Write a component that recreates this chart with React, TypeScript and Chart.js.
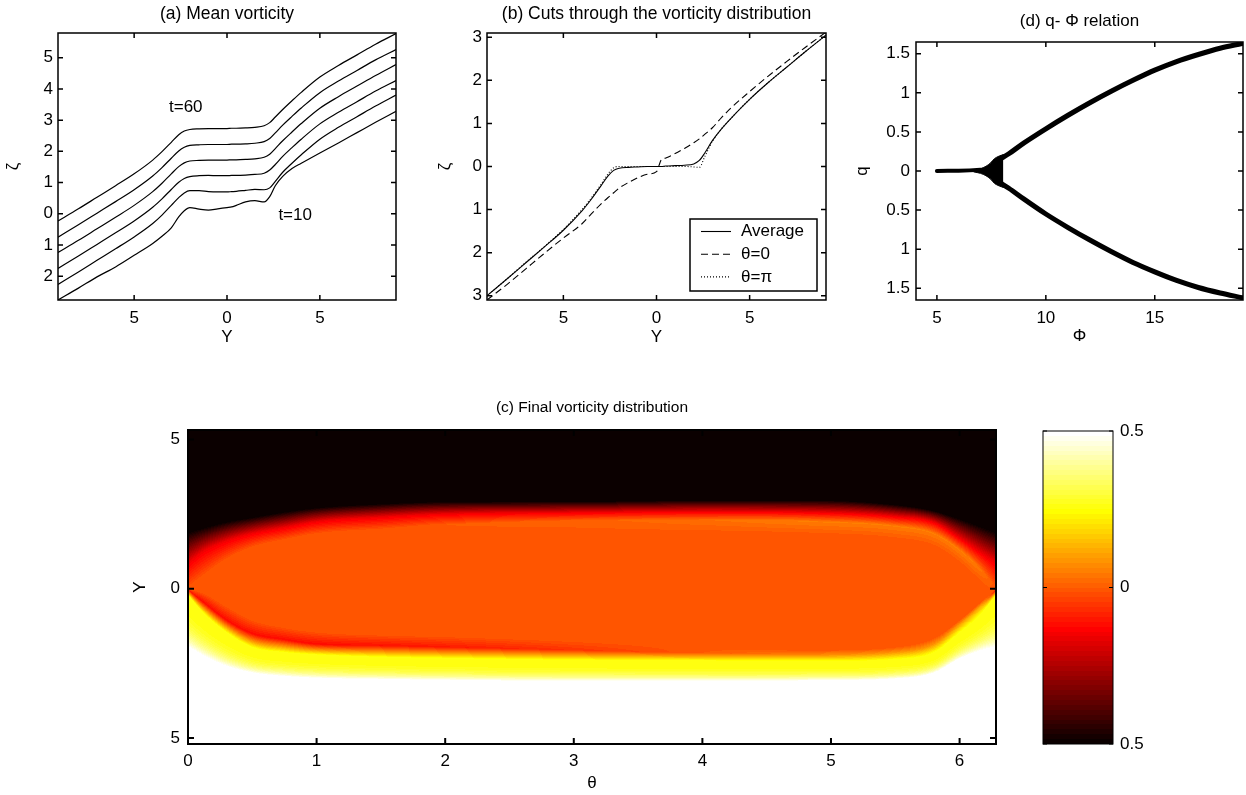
import React, { useEffect, useRef } from "react";
import { Chart, registerables } from "chart.js";

Chart.register(...registerables);

const FONT_FAMILY = "'Liberation Sans', Arial, Helvetica, sans-serif";
const INK = "#000000";

// ---------- (a) Mean vorticity: profiles of zeta(Y), stacked by time ----------
const yGrid = [-9.1, -8, -7, -6, -5, -4, -3.5, -3, -2.6, -2.3, -2, -1.5, -1, -0.5, 0, 0.25, 0.5, 1, 1.5, 2, 2.3, 2.6, 3, 3.5, 4, 5, 6, 7, 8, 9.1];
const meanT10 = [-2.76, -2.38, -2.02, -1.7, -1.33, -0.95, -0.72, -0.45, -0.1, 0.1, 0.2, 0.15, 0.12, 0.16, 0.2, 0.22, 0.27, 0.38, 0.42, 0.38, 0.55, 0.9, 1.2, 1.45, 1.62, 1.95, 2.27, 2.6, 2.93, 3.28];
const meanT20 = [-2.26, -1.86, -1.49, -1.12, -0.74, -0.31, -0.04, 0.27, 0.52, 0.67, 0.74, 0.74, 0.71, 0.7, 0.7, 0.71, 0.72, 0.75, 0.78, 0.77, 0.83, 1.04, 1.33, 1.62, 1.89, 2.39, 2.77, 3.11, 3.45, 3.8];
const meanT30 = [-1.75, -1.35, -0.98, -0.61, -0.23, 0.21, 0.48, 0.78, 1.01, 1.13, 1.19, 1.22, 1.23, 1.22, 1.22, 1.23, 1.23, 1.24, 1.26, 1.3, 1.4, 1.58, 1.84, 2.12, 2.39, 2.88, 3.25, 3.59, 3.93, 4.27];
const meanT40 = [-1.24, -0.85, -0.48, -0.11, 0.27, 0.71, 0.98, 1.28, 1.51, 1.63, 1.69, 1.71, 1.72, 1.72, 1.72, 1.73, 1.73, 1.74, 1.76, 1.81, 1.91, 2.09, 2.34, 2.62, 2.89, 3.38, 3.75, 4.09, 4.43, 4.78];
const meanT50 = [-0.75, -0.35, 0.02, 0.39, 0.77, 1.21, 1.48, 1.78, 2.01, 2.13, 2.19, 2.21, 2.22, 2.22, 2.22, 2.23, 2.23, 2.24, 2.26, 2.31, 2.41, 2.59, 2.84, 3.12, 3.39, 3.88, 4.25, 4.59, 4.93, 5.26];
const meanT60 = [-0.23, 0.16, 0.53, 0.9, 1.28, 1.72, 1.99, 2.29, 2.53, 2.65, 2.7, 2.72, 2.73, 2.73, 2.73, 2.74, 2.74, 2.75, 2.77, 2.82, 2.92, 3.1, 3.34, 3.62, 3.89, 4.38, 4.75, 5.09, 5.43, 5.77];
const meanTimes = ["t=10", "t=20", "t=30", "t=40", "t=50", "t=60"];
const noteTexts = ["t=60", "t=10"];
const noteY = [-2.22, 3.67];
const noteZeta = [3.41, -0.04];

// ---------- (b) Cuts through the vorticity distribution ----------
const cutAverage = [-3.0, -2.6, -2.23, -1.86, -1.48, -1.03, -0.76, -0.46, -0.22, -0.09, -0.04, -0.02, -0.01, 0, 0, 0, 0.01, 0.02, 0.03, 0.06, 0.14, 0.32, 0.6, 0.88, 1.12, 1.56, 1.95, 2.31, 2.67, 3.05];
const cutTheta0 = [-3.1, -2.73, -2.37, -2.01, -1.66, -1.33, -1.1, -0.88, -0.72, -0.61, -0.5, -0.37, -0.26, -0.18, -0.12, 0.15, 0.2, 0.3, 0.42, 0.55, 0.64, 0.75, 0.9, 1.14, 1.36, 1.74, 2.1, 2.44, 2.77, 3.12];
const cutThetaPi = [-3.0, -2.6, -2.22, -1.85, -1.46, -1.0, -0.73, -0.43, -0.17, -0.03, 0, 0, 0, 0, 0, 0, 0, 0, 0, -0.01, -0.02, 0.24, 0.58, 0.88, 1.12, 1.56, 1.95, 2.31, 2.67, 3.05];
const cutLabels = ["Average", "θ=0", "θ=π"];

// ---------- (d) q - Phi relation ----------
const stemPhi = [5, 5.5, 6, 6.5, 7];
const stemQ = [0, 0.002, 0.004, 0.008, 0.015];
const knotPhi = [6.7, 7.0, 7.25, 7.45, 7.65, 7.85, 8.05];
const knotUpper = [0.012, 0.03, 0.06, 0.1, 0.16, 0.19, 0.21];
const knotLower = [-0.012, -0.03, -0.06, -0.1, -0.16, -0.19, -0.21];
const branchPhi = [7.9, 8.3, 9, 10, 11, 12, 13, 14, 15, 16, 17, 18, 19];
const branchUpper = [0.15, 0.22, 0.36, 0.54, 0.71, 0.87, 1.02, 1.16, 1.29, 1.4, 1.49, 1.57, 1.63];
const branchLower = [-0.15, -0.22, -0.36, -0.55, -0.72, -0.88, -1.03, -1.17, -1.29, -1.4, -1.49, -1.56, -1.62];

// ---------- (c) Final vorticity distribution: per-column levels along Y ----------
const fieldTheta = [0, 0.12, 0.3, 0.5, 0.75, 1.0, 1.5, 2.0, 3.0, 4.0, 4.9, 5.5, 5.8, 6.0, 6.15, 6.2832];
const fieldBlack = [1.9, 2.05, 2.25, 2.4, 2.58, 2.72, 2.85, 2.92, 2.93, 2.97, 2.97, 2.82, 2.62, 2.35, 2.12, 1.9];
const fieldRed = [0.85, 1.25, 1.6, 1.85, 2.05, 2.25, 2.4, 2.5, 2.55, 2.58, 2.55, 2.42, 2.22, 1.7, 1.25, 0.85];
const fieldCoreTop = [0.05, 0.45, 1.0, 1.4, 1.65, 1.85, 2.0, 2.15, 2.28, 2.3, 2.25, 2.1, 1.85, 1.3, 0.7, 0.05];
const fieldTopRing = [-0.01, -0.01, -0.01, -0.01, -0.01, -0.01, -0.01, 0.0, 0.01, 0.03, 0.05, 0.05, 0.05, 0.05, 0.04, -0.01];
const fieldCoreBottom = [0.0, -0.15, -0.6, -1.05, -1.3, -1.45, -1.55, -1.6, -1.75, -1.95, -2.05, -1.95, -1.65, -1.05, -0.5, 0.0];
const fieldRingY = [-0.03, -0.45, -1.05, -1.5, -1.7, -1.85, -1.9, -1.95, -2.05, -2.15, -2.2, -2.12, -1.85, -1.2, -0.65, -0.03];
const fieldRingValue = [-0.1, -0.12, -0.12, -0.12, -0.12, -0.12, -0.11, -0.1, -0.06, 0.0, 0.06, 0.08, 0.08, 0.1, 0.12, -0.1];
const fieldYellow = [-0.2, -0.8, -1.45, -1.95, -2.12, -2.2, -2.28, -2.32, -2.38, -2.4, -2.42, -2.35, -2.12, -1.45, -0.9, -0.2];
const fieldWhite = [-1.95, -2.25, -2.6, -2.82, -2.94, -3.0, -3.04, -3.07, -3.1, -3.1, -3.08, -3.02, -2.82, -2.35, -2.1, -1.95];
const CORE_VALUE = -0.01;

// ---------- colour scale ----------
const colorLimits = [-0.5, 0.5];
const colorbarTicks = [-0.5, 0, 0.5];
const COLOR_LEVELS = 64;

function hotColor(v: number): [number, number, number] {
  let i = Math.floor(((v - colorLimits[0]) / (colorLimits[1] - colorLimits[0])) * COLOR_LEVELS);
  i = Math.max(0, Math.min(COLOR_LEVELS - 1, i));
  const r = i < 24 ? (i + 1) / 24 : 1;
  const g = i < 24 ? 0 : i < 48 ? (i - 23) / 24 : 1;
  const b = i < 48 ? 0 : (i - 47) / 16;
  return [Math.round(r * 255), Math.round(g * 255), Math.round(b * 255)];
}

const plainLabel = (v: any) => String(Math.abs(Number(v)));
const font = (size: number) => ({ family: FONT_FAMILY, size, weight: "normal" as const, lineHeight: 1.2 });
const toPoints = (xs: number[], ys: number[]) => xs.map((x, i) => ({ x, y: ys[i] }));

// Box and inward tick marks on all four sides
const framePlugin = {
  id: "frame",
  afterDatasetsDraw(chart: any, _args: any, opts: any) {
    const { ctx, chartArea: a, scales } = chart;
    const len = opts.tickLength ?? 5;
    ctx.save();
    ctx.strokeStyle = INK;
    ctx.lineWidth = opts.lineWidth ?? 1;
    ctx.beginPath();
    if (opts.xTicks !== false && scales.x) {
      for (const t of scales.x.ticks) {
        const px = scales.x.getPixelForValue(t.value);
        ctx.moveTo(px, a.bottom);
        ctx.lineTo(px, a.bottom - len);
        ctx.moveTo(px, a.top);
        ctx.lineTo(px, a.top + len);
      }
    }
    if (scales.y) {
      for (const t of scales.y.ticks) {
        const py = scales.y.getPixelForValue(t.value);
        ctx.moveTo(a.left, py);
        ctx.lineTo(a.left + len, py);
        ctx.moveTo(a.right, py);
        ctx.lineTo(a.right - len, py);
      }
    }
    ctx.stroke();
    ctx.strokeRect(a.left, a.top, a.right - a.left, a.bottom - a.top);
    ctx.restore();
  },
};

// Text placed at data coordinates
const notesPlugin = {
  id: "notes",
  afterDatasetsDraw(chart: any, _args: any, opts: any) {
    if (!opts.texts) return;
    const { ctx, scales } = chart;
    ctx.save();
    ctx.fillStyle = INK;
    ctx.font = `${opts.size}px ${FONT_FAMILY}`;
    ctx.textAlign = "center";
    ctx.textBaseline = "middle";
    opts.texts.forEach((t: string, i: number) => {
      ctx.fillText(t, scales.x.getPixelForValue(opts.xs[i]), scales.y.getPixelForValue(opts.ys[i]));
    });
    ctx.restore();
  },
};

// Boxed legend in the lower right corner of the plot
const boxLegendPlugin = {
  id: "boxLegend",
  afterDraw(chart: any, _args: any, o: any) {
    const { ctx, chartArea: a } = chart;
    const x0 = a.right - o.right - o.width;
    const y0 = a.bottom - o.bottom - o.height;
    ctx.save();
    ctx.fillStyle = "#ffffff";
    ctx.fillRect(x0, y0, o.width, o.height);
    ctx.strokeStyle = INK;
    ctx.lineWidth = 1.5;
    ctx.strokeRect(x0, y0, o.width, o.height);
    chart.data.datasets.forEach((ds: any, i: number) => {
      const y = y0 + o.firstRow + i * o.rowGap;
      ctx.beginPath();
      ctx.setLineDash(ds.borderDash || []);
      ctx.lineWidth = ds.borderWidth;
      ctx.strokeStyle = ds.borderColor;
      ctx.moveTo(x0 + o.lineStart, y);
      ctx.lineTo(x0 + o.lineEnd, y);
      ctx.stroke();
      ctx.setLineDash([]);
      ctx.fillStyle = INK;
      ctx.font = `${o.size}px ${FONT_FAMILY}`;
      ctx.textAlign = "left";
      ctx.textBaseline = "middle";
      ctx.fillText(ds.label, x0 + o.textX, y);
    });
    ctx.restore();
  },
};

// Monotone cubic (Fritsch-Carlson) evaluation of a sampled level across theta
function monotoneAt(xs: number[], ys: number[], x: number) {
  const n = xs.length;
  if (x <= xs[0]) return ys[0];
  if (x >= xs[n - 1]) return ys[n - 1];
  const d: number[] = [];
  for (let i = 0; i < n - 1; i++) d.push((ys[i + 1] - ys[i]) / (xs[i + 1] - xs[i]));
  const m: number[] = new Array(n);
  m[0] = d[0];
  m[n - 1] = d[n - 2];
  for (let i = 1; i < n - 1; i++) m[i] = d[i - 1] * d[i] <= 0 ? 0 : (d[i - 1] + d[i]) / 2;
  for (let i = 0; i < n - 1; i++) {
    if (d[i] === 0) {
      m[i] = 0;
      m[i + 1] = 0;
      continue;
    }
    const a = m[i] / d[i];
    const b = m[i + 1] / d[i];
    const s = a * a + b * b;
    if (s > 9) {
      const t = 3 / Math.sqrt(s);
      m[i] = t * a * d[i];
      m[i + 1] = t * b * d[i];
    }
  }
  let k = 0;
  while (x > xs[k + 1]) k++;
  const h = xs[k + 1] - xs[k];
  const t = (x - xs[k]) / h;
  const t2 = t * t;
  const t3 = t2 * t;
  return (
    (2 * t3 - 3 * t2 + 1) * ys[k] +
    (t3 - 2 * t2 + t) * h * m[k] +
    (-2 * t3 + 3 * t2) * ys[k + 1] +
    (t3 - t2) * h * m[k + 1]
  );
}

function columnAt(theta: number) {
  const at = (arr: number[]) => monotoneAt(fieldTheta, arr, theta);
  return {
    black: at(fieldBlack),
    red: at(fieldRed),
    coreTop: at(fieldCoreTop),
    topRing: at(fieldTopRing),
    coreBottom: at(fieldCoreBottom),
    ring: at(fieldRingY),
    ringValue: at(fieldRingValue),
    yellow: at(fieldYellow),
    white: at(fieldWhite),
  };
}

function profileValue(Y: number, c: any) {
  const stops: Array<[number, number]> = [
    [c.black, -0.5],
    [c.red, -0.15],
    [c.coreTop, c.topRing],
    [Math.max(c.coreBottom, c.coreTop - 0.45), CORE_VALUE],
    [c.coreBottom, CORE_VALUE],
    [c.ring, c.ringValue],
    [c.yellow, 0.25],
  ];
  if (Y >= stops[0][0]) return -0.5;
  for (let k = 1; k < stops.length; k++) {
    const [y1, v1] = stops[k];
    if (Y >= y1) {
      const [y0, v0] = stops[k - 1];
      const t = y0 <= y1 ? 1 : (y0 - Y) / (y0 - y1);
      return v0 + (v1 - v0) * t;
    }
  }
  if (Y <= c.white) return 0.5;
  const t = (c.yellow - Y) / (c.yellow - c.white);
  return 0.25 + 0.25 * t * t * t;
}

// Vorticity field painted through the chart's own scales
const fieldPlugin = {
  id: "vorticityField",
  beforeDatasetsDraw(chart: any) {
    const { ctx, chartArea: a, scales } = chart;
    const w = Math.round(a.right - a.left);
    const h = Math.round(a.bottom - a.top);
    const off = document.createElement("canvas");
    off.width = w;
    off.height = h;
    const octx = off.getContext("2d")!;
    const img = octx.createImageData(w, h);
    const rows = new Float64Array(h);
    for (let j = 0; j < h; j++) rows[j] = scales.y.getValueForPixel(a.top + j + 0.5);
    for (let i = 0; i < w; i++) {
      const col = columnAt(scales.x.getValueForPixel(a.left + i + 0.5));
      for (let j = 0; j < h; j++) {
        const [r, g, b] = hotColor(profileValue(rows[j], col));
        const k = (j * w + i) * 4;
        img.data[k] = r;
        img.data[k + 1] = g;
        img.data[k + 2] = b;
        img.data[k + 3] = 255;
      }
    }
    octx.putImageData(img, 0, 0);
    ctx.drawImage(off, a.left, a.top);
  },
};

function colorbarGradient(chart: any) {
  const { ctx, chartArea, scales } = chart;
  if (!chartArea) return "#ff5500";
  const y0 = scales.y.getPixelForValue(colorLimits[0]);
  const y1 = scales.y.getPixelForValue(colorLimits[1]);
  const g = ctx.createLinearGradient(0, y0, 0, y1);
  for (let i = 0; i < COLOR_LEVELS; i++) {
    const v = colorLimits[0] + ((i + 0.5) / COLOR_LEVELS) * (colorLimits[1] - colorLimits[0]);
    const [r, gg, b] = hotColor(v);
    const c = `rgb(${r},${gg},${b})`;
    g.addColorStop(i / COLOR_LEVELS, c);
    g.addColorStop((i + 1) / COLOR_LEVELS, c);
  }
  return g;
}

interface PanelSpec {
  width: number;
  height: number;
  plot: { left: number; top: number; right: number; bottom: number };
  title: string;
  titleY: number;
  titleSize: number;
  tickSize: number;
  x: { min: number; max: number; ticks: number[]; title: string; titleY: number; pad: number };
  y: { min: number; max: number; ticks: number[]; title: string; titleX: number; pad: number };
}

function panelOptions(s: PanelSpec, extraPlugins: any) {
  const lh = s.tickSize * 1.2;
  const tlh = s.titleSize * 1.2;
  return {
    animation: false,
    responsive: false,
    events: [],
    layout: { padding: { left: 0, top: 0, right: s.width - s.plot.right, bottom: 0 } },
    plugins: {
      legend: { display: false },
      tooltip: { enabled: false },
      title: {
        display: true,
        text: s.title,
        fullSize: false,
        color: INK,
        font: font(s.titleSize),
        padding: { top: s.titleY - tlh / 2, bottom: s.plot.top - s.titleY - tlh / 2 },
      },
      ...extraPlugins,
    },
    scales: {
      x: {
        type: "linear",
        min: s.x.min,
        max: s.x.max,
        afterBuildTicks: (sc: any) => {
          sc.ticks = s.x.ticks.map((value) => ({ value }));
        },
        afterFit: (sc: any) => {
          sc.height = s.height - s.plot.bottom;
        },
        grid: { display: false, drawTicks: false },
        border: { display: false },
        ticks: { color: INK, font: font(s.tickSize), padding: s.x.pad, maxRotation: 0, autoSkip: false, callback: plainLabel },
        title: {
          display: true,
          text: s.x.title,
          color: INK,
          font: font(s.tickSize),
          padding: { top: 0, bottom: s.height - s.x.titleY - lh / 2 },
        },
      },
      y: {
        type: "linear",
        min: s.y.min,
        max: s.y.max,
        afterBuildTicks: (sc: any) => {
          sc.ticks = s.y.ticks.map((value) => ({ value }));
        },
        afterFit: (sc: any) => {
          sc.width = s.plot.left;
        },
        grid: { display: false, drawTicks: false },
        border: { display: false },
        ticks: { color: INK, font: font(s.tickSize), padding: s.y.pad, autoSkip: false, callback: plainLabel },
        title: {
          display: true,
          text: s.y.title,
          color: INK,
          font: font(s.tickSize),
          padding: { top: s.y.titleX - lh / 2, bottom: 0 },
        },
      },
    },
  };
}

const lineStyle = { pointRadius: 0, borderColor: INK, fill: false, cubicInterpolationMode: "monotone" as const };

function buildMeanVorticity() {
  const spec: PanelSpec = {
    width: 415, height: 350,
    plot: { left: 58, top: 33, right: 396, bottom: 300 },
    title: "(a) Mean vorticity", titleY: 14, titleSize: 17.5, tickSize: 17,
    x: { min: -9.1, max: 9.1, ticks: [-5, 0, 5], title: "Y", titleY: 337, pad: 8 },
    y: { min: -2.76, max: 5.79, ticks: [-2, -1, 0, 1, 2, 3, 4, 5], title: "ζ", titleX: 13, pad: 5 },
  };
  const curves = [meanT10, meanT20, meanT30, meanT40, meanT50, meanT60];
  return {
    type: "line",
    data: {
      datasets: curves.map((c, i) => ({ ...lineStyle, label: meanTimes[i], data: toPoints(yGrid, c), borderWidth: 1.2 })),
    },
    options: panelOptions(spec, {
      frame: { lineWidth: 1.5, tickLength: 5 },
      notes: { texts: noteTexts, xs: noteY, ys: noteZeta, size: 17 },
    }),
    plugins: [framePlugin, notesPlugin],
  };
}

function buildCuts() {
  const spec: PanelSpec = {
    width: 420, height: 350,
    plot: { left: 67, top: 33, right: 406, bottom: 300 },
    title: "(b) Cuts through the vorticity distribution", titleY: 14, titleSize: 17.5, tickSize: 17,
    x: { min: -9.1, max: 9.1, ticks: [-5, 0, 5], title: "Y", titleY: 337, pad: 8 },
    y: { min: -3.1, max: 3.1, ticks: [-3, -2, -1, 0, 1, 2, 3], title: "ζ", titleX: 25, pad: 5 },
  };
  return {
    type: "line",
    data: {
      datasets: [
        { ...lineStyle, label: cutLabels[0], data: toPoints(yGrid, cutAverage), borderWidth: 1.1, borderDash: [] },
        { ...lineStyle, label: cutLabels[1], data: toPoints(yGrid, cutTheta0), borderWidth: 1.1, borderDash: [7, 4] },
        { ...lineStyle, label: cutLabels[2], data: toPoints(yGrid, cutThetaPi), borderWidth: 1.1, borderDash: [1, 2] },
      ],
    },
    options: panelOptions(spec, {
      frame: { lineWidth: 1.5, tickLength: 5 },
      boxLegend: { right: 9, bottom: 9, width: 127, height: 72, firstRow: 12.5, rowGap: 22.7, lineStart: 11, lineEnd: 41, textX: 51, size: 17 },
    }),
    plugins: [framePlugin, boxLegendPlugin],
  };
}

function buildRelation() {
  const spec: PanelSpec = {
    width: 406, height: 350,
    plot: { left: 76, top: 42, right: 403, bottom: 300 },
    title: "(d) q- Φ relation", titleY: 21.7, titleSize: 17, tickSize: 17,
    x: { min: 4.04, max: 19.05, ticks: [5, 10, 15], title: "Φ", titleY: 336, pad: 8 },
    y: { min: -1.65, max: 1.65, ticks: [-1.5, -1, -0.5, 0, 0.5, 1, 1.5], title: "q", titleX: 22, pad: 6 },
  };
  const thick = { pointRadius: 0, borderColor: INK, backgroundColor: INK, borderCapStyle: "round" as const };
  return {
    type: "line",
    data: {
      datasets: [
        { ...thick, label: "stem", data: toPoints(stemPhi, stemQ), borderWidth: 4, fill: false },
        { ...thick, label: "knot+", data: toPoints(knotPhi, knotUpper), borderWidth: 1, fill: false, tension: 0.3 },
        { ...thick, label: "knot-", data: toPoints(knotPhi, knotLower), borderWidth: 1, fill: "-1", tension: 0.3 },
        { ...thick, label: "upper", data: toPoints(branchPhi, branchUpper), borderWidth: 5, fill: false, cubicInterpolationMode: "monotone" as const },
        { ...thick, label: "lower", data: toPoints(branchPhi, branchLower), borderWidth: 5, fill: false, cubicInterpolationMode: "monotone" as const },
      ],
    },
    options: panelOptions(spec, { frame: { lineWidth: 1.5, tickLength: 5 } }),
    plugins: [framePlugin],
  };
}

function buildField() {
  const spec: PanelSpec = {
    width: 940, height: 415,
    plot: { left: 88, top: 50, right: 896, bottom: 364 },
    title: "(c) Final vorticity distribution", titleY: 28, titleSize: 15.5, tickSize: 17,
    x: { min: 0, max: 2 * Math.PI, ticks: [0, 1, 2, 3, 4, 5, 6], title: "θ", titleY: 403, pad: 7 },
    y: { min: -5.2, max: 5.32, ticks: [-5, 0, 5], title: "Y", titleX: 40, pad: 8 },
  };
  return {
    type: "scatter",
    data: { datasets: [] },
    options: panelOptions(spec, { frame: { lineWidth: 2, tickLength: 6 } }),
    plugins: [fieldPlugin, framePlugin],
  };
}

function buildColorbar() {
  return {
    type: "bar",
    data: {
      labels: [""],
      datasets: [
        {
          label: "scale",
          data: [[colorLimits[0], colorLimits[1]]],
          backgroundColor: (c: any) => colorbarGradient(c.chart),
          borderWidth: 0,
          barPercentage: 1,
          categoryPercentage: 1,
        },
      ],
    },
    options: {
      animation: false,
      responsive: false,
      events: [],
      layout: { padding: { left: 13, top: 51, bottom: 51, right: 0 } },
      plugins: {
        legend: { display: false },
        tooltip: { enabled: false },
        frame: { lineWidth: 1, tickLength: 4, xTicks: false },
      },
      scales: {
        x: { display: false },
        y: {
          position: "right",
          min: colorLimits[0],
          max: colorLimits[1],
          afterBuildTicks: (sc: any) => {
            sc.ticks = colorbarTicks.map((value) => ({ value }));
          },
          afterFit: (sc: any) => {
            sc.width = 133;
          },
          grid: { display: false, drawTicks: false },
          border: { display: false },
          ticks: { color: INK, font: font(17), padding: 7, autoSkip: false, callback: plainLabel },
        },
      },
    },
    plugins: [framePlugin],
  };
}

function ChartCanvas(props: { left: number; top: number; width: number; height: number; build: () => any }) {
  const ref = useRef<HTMLCanvasElement>(null);
  useEffect(() => {
    const chart = new Chart(ref.current as HTMLCanvasElement, props.build());
    return () => chart.destroy();
  }, []);
  return (
    <canvas
      ref={ref}
      width={props.width}
      height={props.height}
      style={{ position: "absolute", left: props.left, top: props.top, width: props.width, height: props.height }}
    />
  );
}

export default function App() {
  return (
    <div style={{ position: "absolute", left: 0, top: 0, width: 1246, height: 795, background: "#ffffff", overflow: "hidden" }}>
      <ChartCanvas left={0} top={0} width={415} height={350} build={buildMeanVorticity} />
      <ChartCanvas left={420} top={0} width={420} height={350} build={buildCuts} />
      <ChartCanvas left={840} top={0} width={406} height={350} build={buildRelation} />
      <ChartCanvas left={100} top={380} width={940} height={415} build={buildField} />
      <ChartCanvas left={1030} top={380} width={216} height={415} build={buildColorbar} />
    </div>
  );
}
